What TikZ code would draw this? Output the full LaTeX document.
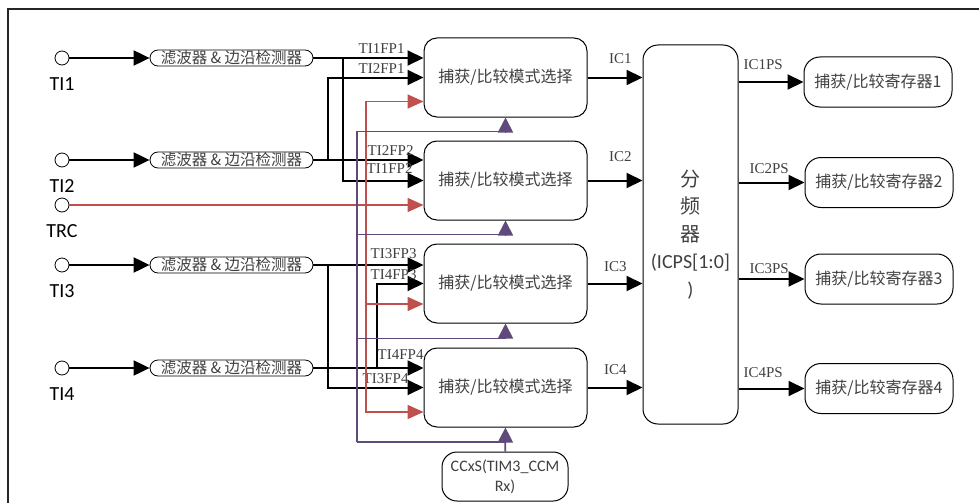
\documentclass[tikz,border=0pt]{standalone}
\usepackage{fontspec}
\setmainfont{Carlito}
\newfontfamily\cjk{Noto Sans CJK SC}
\newfontfamily\lbfont{Liberation Serif}
\usepackage{xcolor}
\usepackage{tikz}
\usetikzlibrary{arrows.meta}
\definecolor{trcred}{RGB}{192,80,77}
\definecolor{ccpurple}{RGB}{96,74,123}
\definecolor{txtgray}{RGB}{64,64,64}

\begin{document}
\begin{tikzpicture}[x=1pt, y=-1pt,
    pin/.style={circle, draw, line width=0.8pt, fill=white, minimum size=14pt, inner sep=0pt},
    pinname/.style={anchor=base, inner sep=0pt, font=\fontsize{20}{20}\selectfont},
    filt/.style={draw, line width=0.8pt, rounded corners=8pt, minimum width=163pt, minimum height=16pt, inner sep=0pt, text=txtgray, font=\cjk\fontsize{15.5}{15.5}\selectfont},
    capt/.style={draw, line width=1pt, rounded corners=13pt, minimum width=163pt, minimum height=79pt, text=txtgray, font=\cjk\fontsize{16}{16}\selectfont},
    reg/.style={draw, line width=1pt, rounded corners=16pt, minimum width=148pt, minimum height=50pt, text=txtgray, font=\cjk\fontsize{16}{16}\selectfont},
    sig/.style={line width=2pt, -{Triangle[length=16pt, width=15pt]}},
    trcwire/.style={trcred, line width=1.7pt, -{Triangle[length=16pt, width=14pt]}},
    ccwire/.style={ccpurple, line width=1.7pt, -{Triangle[length=15pt, width=15pt]}},
    fplabel/.style={anchor=south east, inner sep=1pt, text=txtgray, font=\lbfont\fontsize{15}{15}\selectfont},
    pslabel/.style={anchor=south west, inner sep=1pt, text=txtgray, font=\lbfont\fontsize{15}{15}\selectfont}]

    \useasboundingbox (0,0) rectangle (979,503);
    \draw[line width=1.2pt, black!85] (979,9) -- (8,9) -- (8,503);

    % entradas
    \node[pin] (ti1) at (62,58) {};
    \node[pin] (ti2) at (62,160) {};
    \node[pin] (trc) at (62,205) {};
    \node[pin] (ti3) at (62,265) {};
    \node[pin] (ti4) at (62,368) {};
    \node[pinname] (n1) at (62,90) {TI1};
    \node[pinname] (n2) at (62,192) {TI2};
    \node[pinname] (n0) at (62,237) {TRC};
    \node[pinname] (n3) at (62,297) {TI3};
    \node[pinname] (n4) at (62,400) {TI4};

    % filtros
    \node[filt] (f1) at (231.5,58) {滤波器 \& 边沿检测器};
    \node[filt] (f2) at (231.5,160) {滤波器 \& 边沿检测器};
    \node[filt] (f3) at (231.5,265) {滤波器 \& 边沿检测器};
    \node[filt] (f4) at (231.5,368) {滤波器 \& 边沿检测器};

    % captura / comparacao
    \node[capt] (c1) at (505.5,77.5) {捕获/比较模式选择};
    \node[capt] (c2) at (505.5,180.5) {捕获/比较模式选择};
    \node[capt] (c3) at (505.5,283.5) {捕获/比较模式选择};
    \node[capt] (c4) at (505.5,387.5) {捕获/比较模式选择};

    % divisor e registradores
    \node[draw, line width=1pt, rounded corners=15pt, minimum width=95pt, minimum height=379pt, align=center, text=txtgray, font=\fontsize{20}{27.5}\selectfont] (div) at (690.5,234.5) {{\cjk 分}\\{\cjk 频}\\{\cjk 器}\\(ICPS[1:0]\\)};
    \node[reg] (r1) at (878,82) {捕获/比较寄存器1};
    \node[reg] (r2) at (879,182.5) {捕获/比较寄存器2};
    \node[reg] (r3) at (879,279) {捕获/比较寄存器3};
    \node[reg] (r4) at (879,388.5) {捕获/比较寄存器4};
    \node[draw, line width=1pt, rounded corners=15pt, minimum width=126pt, minimum height=49pt, align=center, text=txtgray, font=\fontsize{16}{20}\selectfont] (ccxs) at (505,476.5) {CCxS(TIM3\_CCM\\Rx)};

    % entradas -> filtros
    \draw[sig] (ti1) -- (f1);
    \draw[sig] (ti2) -- (f2);
    \draw[sig] (ti3) -- (f3);
    \draw[sig] (ti4) -- (f4);

    % filtros -> captura
    \coordinate (j1) at ([xshift=30pt]f1.east);
    \coordinate (j2) at ([xshift=15pt]f2.east);
    \coordinate (j3) at ([xshift=15pt]f3.east);
    \coordinate (j4) at ([xshift=64pt]f4.east);
    \draw[sig] (f1) -- (c1.west |- f1) node[fplabel, xshift=-17pt, yshift=2.3pt] {TI1FP1};
    \draw[sig] (j2) |- (c1.west) node[fplabel, xshift=-17pt, yshift=2pt] {TI2FP1};
    \draw[sig] (f2) -- (c2.west |- f2) node[fplabel, xshift=-8pt, yshift=3pt] {TI2FP2};
    \draw[sig] (j1) |- (c2.west) node[fplabel, xshift=-9pt, yshift=4.7pt] {TI1FP2};
    \draw[sig] (f3) -- (c3.west |- f3) node[fplabel, xshift=-5pt, yshift=4.3pt] {TI3FP3};
    \draw[sig] (j4) |- (c3.west) node[fplabel, xshift=-5pt, yshift=1.6pt] {TI4FP3};
    \draw[sig] (f4) -- (c4.west |- f4) node[fplabel, xshift=2pt, yshift=6.6pt] {TI4FP4};
    \draw[sig] (j3) |- (c4.west) node[fplabel, xshift=-13pt, yshift=1.7pt] {TI3FP4};

    % TRC
    \coordinate (jr) at (366,205);
    \draw[trcwire] (trc) -- (c2.west |- trc);
    \draw[trcwire] (jr) |- ([yshift=-24pt]c1.west);
    \draw[trcwire] (jr) |- ([yshift=-20.5pt]c3.west);
    \draw[trcwire] (jr) |- ([yshift=-24.5pt]c4.west);

    % CCxS
    \coordinate (jp) at (357,442);
    \draw[ccwire] (ccxs) -- (c4.south);
    \draw[ccwire, -] (jp) -- (ccxs.north |- jp);
    \draw[ccwire] (jp) |- ([yshift=-14pt]c1.south) -- (c1.south);
    \draw[ccwire] (jp) |- ([yshift=-14pt]c2.south) -- (c2.south);
    \draw[ccwire] (jp) |- ([yshift=-15pt]c3.south) -- (c3.south);

    % captura -> divisor
    \draw[sig] (c1) -- (c1 -| div.west) node[fplabel, xshift=-9pt, yshift=11.7pt] {IC1};
    \draw[sig] (c2) -- (c2 -| div.west) node[fplabel, xshift=-9pt, yshift=16.4pt] {IC2};
    \draw[sig] (c3) -- (c3 -| div.west) node[fplabel, xshift=-14pt, yshift=10pt] {IC3};
    \draw[sig] (c4) -- (c4 -| div.west) node[fplabel, xshift=-14pt, yshift=11.3pt] {IC4};

    % divisor -> registradores
    \draw[sig] (div.east |- r1) -- (r1) node[pos=0, pslabel, xshift=3pt, yshift=10pt] {IC1PS};
    \draw[sig] (div.east |- r2) -- (r2) node[pos=0, pslabel, xshift=9pt, yshift=7pt] {IC2PS};
    \draw[sig] (div.east |- r3) -- (r3) node[pos=0, pslabel, xshift=9pt, yshift=3pt] {IC3PS};
    \draw[sig] (div.east |- r4) -- (r4) node[pos=0, pslabel, xshift=3pt, yshift=9pt] {IC4PS};
\end{tikzpicture}
\end{document}
